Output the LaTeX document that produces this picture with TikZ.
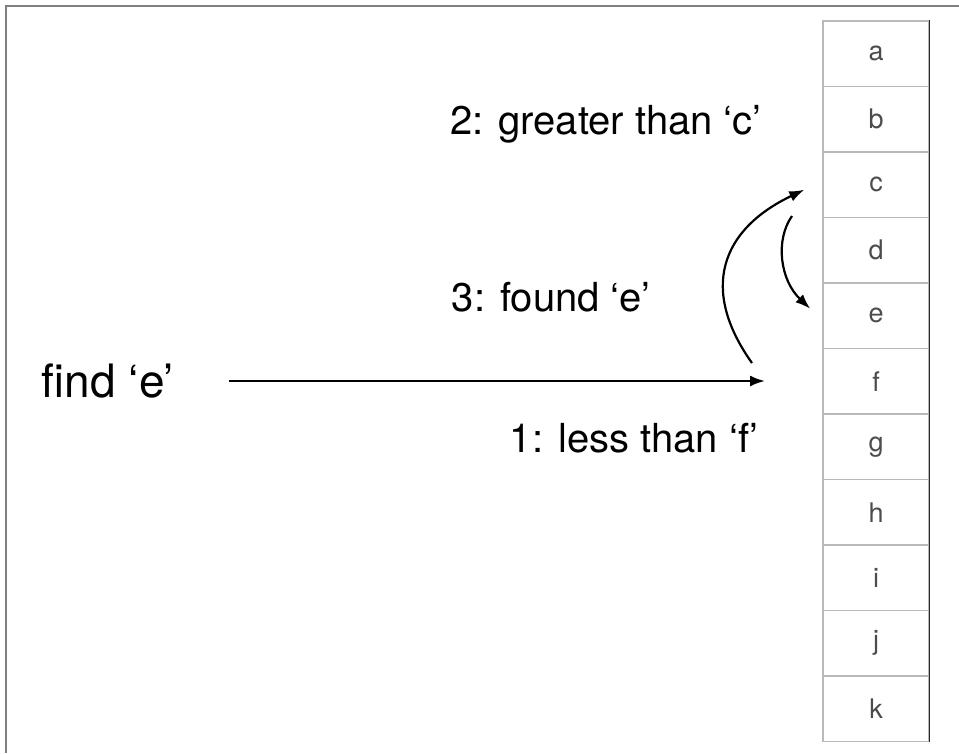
\documentclass[tikz,border=0pt]{standalone}
\usepackage{fontspec}
\setmainfont{TeX Gyre Heros}
\usetikzlibrary{arrows.meta}
\begin{document}
\begin{tikzpicture}[x=1pt, y=-1pt, >={Latex[length=15pt, width=11pt]},
    cell/.style={draw=gray!55, line width=1.5pt, minimum width=106pt, minimum height=65.5pt, inner sep=0pt, text=black!70, font=\fontsize{27}{32}\selectfont},
    lbl/.style={inner sep=0pt, font=\fontsize{40}{48}\selectfont},
    arr/.style={->, line width=2.2pt}]
    \useasboundingbox (0,0) rectangle (959,753);
    \draw[gray, line width=2pt] (6,753) -- (6,6) -- (959,6);

    % the sorted column
    \foreach \letter [count=\i] in {a,b,c,d,e,f,g,h,i,j,k}
        \node (\letter) [cell] at (876, {21+65.5*(\i-0.5)}) {\letter};
    \draw[black!85, line width=1.2pt] (a.north east) -- (k.south east);

    \node (find) [lbl, font=\fontsize{46}{54}\selectfont] at (108, 381) {find ‘e’};
    \node (less) [lbl] at (634, 438) {1: less than ‘f’};
    \node (greater) [lbl] at (606, 124) {2: greater than ‘c’};
    \node (found) [lbl] at (551, 297) {3: found ‘e’};

    \coordinate (tip1) at (765, 381);
    \coordinate (turn1) at (752, 363);
    \coordinate (turn2) at (792, 216);

    \draw[arr, shorten <=55pt] (find) -- (tip1);
    \draw[arr] (turn1) .. controls (700,290) and (720,230) .. ([shift={(-18,5)}]c.west);
    \draw[arr] (turn2) .. controls (775,240) and (780,280) .. ([shift={(-12,-7)}]e.west);
\end{tikzpicture}
\end{document}
